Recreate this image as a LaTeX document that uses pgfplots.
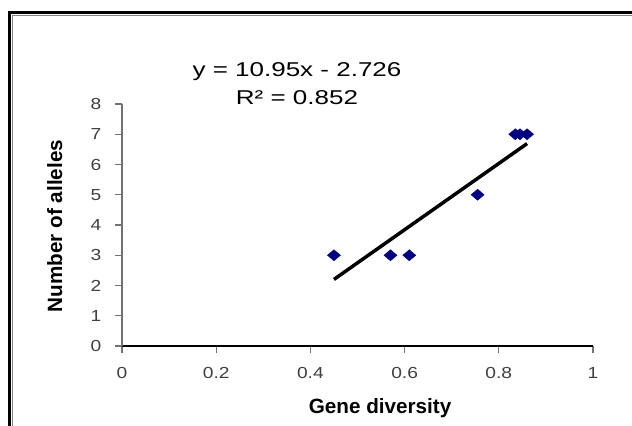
\documentclass[border=0pt]{standalone}
\usepackage{fontspec}
\setmainfont{Liberation Sans}
\usepackage{pgfplots}
\pgfplotsset{compat=1.18}
\definecolor{navymark}{RGB}{0,0,128}
\begin{document}
\begin{tikzpicture}[x=0.75pt,y=0.75pt]
\useasboundingbox (0,0) rectangle (632,425);
% outer chart frame (cut at the right and bottom like the screenshot)
\begin{scope}
\clip (0,0) rectangle (632,425);
\draw[line width=2.25pt] (9.5,-10) -- (9.5,412) -- (650,412);
\draw[gray, line width=0.75pt] (12.5,-10) -- (12.5,409.5) -- (650,409.5);
\end{scope}
\begin{axis}[
  at={(91.5pt,59.25pt)}, anchor=south west,
  scale only axis, width=353.25pt, height=181.5pt,
  xmin=0, xmax=1, ymin=0, ymax=8,
  axis lines=left,
  axis line style={-},
  x axis line style={black, line width=0.9pt},
  y axis line style={gray!90!black, line width=1.1pt},
  tick align=outside, major tick length=5.25pt,
  tick style={gray!90!black, line width=0.8pt},
  xtick={0,0.2,0.4,0.6,0.8,1}, ytick={0,1,...,8},
  /pgf/number format/assume math mode=true,
  ticklabel style={font=\fontsize{12}{14}\selectfont, text=black!75, xscale=1.2},
  xticklabel style={yshift=-7pt},
  yticklabel style={xshift=-5pt},
  xlabel={Gene diversity}, ylabel={Number of alleles},
  xlabel style={at={(axis description cs:0.548,-0.256)}, anchor=center,
    font=\fontsize{15.5}{17}\selectfont\bfseries},
  ylabel style={at={(axis description cs:-0.143,0.496)}, anchor=center,
    font=\fontsize{15.5}{17}\selectfont\bfseries},
  clip=false,
]
\addplot[only marks, mark=diamond*, mark size=4.1pt,
  mark options={xscale=1.57, draw=navymark, fill=navymark}]
  coordinates {(0.45,3) (0.57,3) (0.61,3) (0.755,5) (0.835,7) (0.845,7) (0.86,7)};
\addplot[black, line width=2.6pt] coordinates {(0.45,2.2015) (0.86,6.691)};
\end{axis}
\node[font=\fontsize{15}{17}\selectfont, xscale=1.3] at (297,353) {y = 10.95x - 2.726};
\node[font=\fontsize{15}{17}\selectfont, xscale=1.3] at (297,327) {R² = 0.852};
\end{tikzpicture}
\end{document}
